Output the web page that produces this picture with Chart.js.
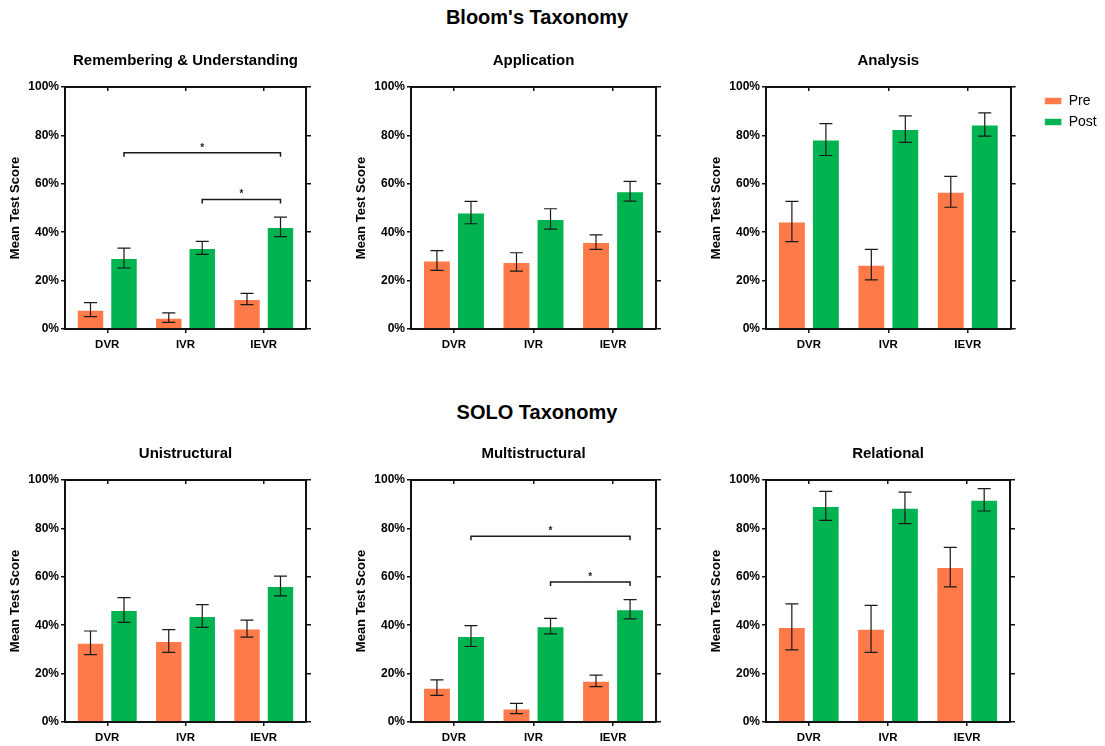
<!DOCTYPE html>
<html>
<head>
<meta charset="utf-8">
<script src="https://cdn.jsdelivr.net/npm/chart.js@4.4.1/dist/chart.umd.min.js"></script>
<style>
  body { margin: 0; background: #fff; width: 1105px; height: 746px; position: relative; overflow: hidden;
         font-family: "Liberation Sans", Arial, sans-serif; }
  .section { position: absolute; left: 0; width: 1074px; text-align: center; font-weight: bold;
             font-size: 20px; line-height: 23px; color: #000; }
  canvas { position: absolute; }
</style>
</head>
<body>
<div class="section" style="top:6px">Bloom's Taxonomy</div>
<div class="section" style="top:401px">SOLO Taxonomy</div>
<script>
// ---- data (percent) ----
const categories = ['DVR', 'IVR', 'IEVR'];
const yTicks = [0, 20, 40, 60, 80, 100];

const remPre = [8.0, 4.7, 12.4];
const remPreErr = [2.9, 2.0, 2.3];
const remPost = [29.3, 33.5, 42.2];
const remPostErr = [4.1, 2.7, 4.0];
const remBrackets = [{ from: 0, to: 2, y: 72.8 }, { from: 1, to: 2, y: 53.5 }];

const appPre = [28.3, 27.7, 35.9];
const appPreErr = [4.1, 3.8, 3.0];
const appPost = [48.1, 45.5, 56.9];
const appPostErr = [4.6, 4.2, 4.1];

const anaPre = [44.4, 26.6, 56.7];
const anaPreErr = [8.3, 6.3, 6.4];
const anaPost = [78.3, 82.6, 84.5];
const anaPostErr = [6.6, 5.5, 4.8];

const uniPre = [32.7, 33.5, 38.6];
const uniPreErr = [4.9, 4.7, 3.5];
const uniPost = [46.3, 43.8, 56.2];
const uniPostErr = [5.1, 4.7, 4.1];

const mulPre = [14.2, 5.6, 17.0];
const mulPreErr = [3.2, 2.1, 2.4];
const mulPost = [35.5, 39.6, 46.6];
const mulPostErr = [4.3, 3.2, 4.0];
const mulBrackets = [{ from: 0, to: 2, y: 76.8 }, { from: 1, to: 2, y: 57.8 }];

const relPre = [39.3, 38.5, 64.0];
const relPreErr = [9.5, 9.7, 8.2];
const relPost = [89.3, 88.5, 91.8];
const relPostErr = [6.0, 6.5, 4.6];

const PRE_COLOR = '#FF7A48';
const POST_COLOR = '#00B351';
const FONT = '"Liberation Sans", Arial, sans-serif';
Chart.defaults.font.family = FONT;

// panel layout: plot-area left/top and width
const panels = [
  { title: 'Remembering & Understanding', pre: remPre, preErr: remPreErr, post: remPost, postErr: remPostErr, brackets: remBrackets, left: 65, top: 87, w: 241 },
  { title: 'Application', pre: appPre, preErr: appPreErr, post: appPost, postErr: appPostErr, brackets: [], left: 411, top: 87, w: 245 },
  { title: 'Analysis', pre: anaPre, preErr: anaPreErr, post: anaPost, postErr: anaPostErr, brackets: [], left: 766, top: 87, w: 244, legend: true },
  { title: 'Unistructural', pre: uniPre, preErr: uniPreErr, post: uniPost, postErr: uniPostErr, brackets: [], left: 65, top: 480, w: 241 },
  { title: 'Multistructural', pre: mulPre, preErr: mulPreErr, post: mulPost, postErr: mulPostErr, brackets: mulBrackets, left: 411, top: 480, w: 245 },
  { title: 'Relational', pre: relPre, preErr: relPreErr, post: relPost, postErr: relPostErr, brackets: [], left: 766, top: 480, w: 244 }
];
const PLOT_H = 242;
const TOP_SPACE = 45;
const BOTTOM_SPACE = 30;
const LEFT_SPACE = 65;
const EDGE = 0.04; // extra category room at both ends of the x axis

// error bars drawn over the bars
const errorBars = {
  id: 'errorBars',
  afterDatasetsDraw(chart) {
    const { ctx } = chart;
    const y = chart.scales.y;
    ctx.save();
    ctx.strokeStyle = '#1a1a1a';
    ctx.lineWidth = 1.2;
    chart.data.datasets.forEach((ds, di) => {
      chart.getDatasetMeta(di).data.forEach((bar, i) => {
        const yt = y.getPixelForValue(ds.data[i] + ds.err[i]);
        const yb = y.getPixelForValue(ds.data[i] - ds.err[i]);
        ctx.beginPath();
        ctx.moveTo(bar.x, yt); ctx.lineTo(bar.x, yb);
        ctx.moveTo(bar.x - 6.5, yt); ctx.lineTo(bar.x + 6.5, yt);
        ctx.moveTo(bar.x - 6.5, yb); ctx.lineTo(bar.x + 6.5, yb);
        ctx.stroke();
      });
    });
    ctx.restore();
  }
};

// significance brackets between Post bars
function bracketPlugin(list) {
  return {
    id: 'brackets',
    afterDatasetsDraw(chart) {
      const { ctx } = chart;
      const y = chart.scales.y;
      const bars = chart.getDatasetMeta(1).data;
      ctx.save();
      ctx.strokeStyle = '#1a1a1a';
      ctx.fillStyle = '#1a1a1a';
      ctx.lineWidth = 1.5;
      list.forEach(b => {
        const x1 = bars[b.from].x, x2 = bars[b.to].x;
        const yy = y.getPixelForValue(b.y);
        ctx.beginPath();
        ctx.moveTo(x1, yy + 4); ctx.lineTo(x1, yy); ctx.lineTo(x2, yy); ctx.lineTo(x2, yy + 4);
        ctx.stroke();
        ctx.font = 'bold 10px ' + FONT;
        ctx.textAlign = 'center';
        ctx.textBaseline = 'middle';
        ctx.fillText('*', (x1 + x2) / 2, yy - 5);
      });
      ctx.restore();
    }
  };
}

const frame = { display: true, color: '#111', width: 2 };
const widenX = s => { s.min = -EDGE; s.max = categories.length - 1 + EDGE; };
const categoryTicks = s => {
  s.ticks = categories.map((c, i) => ({ value: i }));
  s._startValue = -0.5 - EDGE;
  s._valueRange = categories.length + 2 * EDGE;
};

panels.forEach(p => {
  const cv = document.createElement('canvas');
  const x0 = p.left - LEFT_SPACE;
  const W = p.legend ? 1105 - x0 : LEFT_SPACE + p.w + 10;
  const H = TOP_SPACE + PLOT_H + BOTTOM_SPACE;
  cv.width = W; cv.height = H;
  cv.style.left = x0 + 'px';
  cv.style.top = (p.top - TOP_SPACE) + 'px';
  document.body.appendChild(cv);

  new Chart(cv, {
    type: 'bar',
    data: {
      labels: categories,
      datasets: [
        { label: 'Pre', data: p.pre, err: p.preErr, backgroundColor: PRE_COLOR, borderColor: 'rgba(255,255,255,0.55)', borderWidth: 1 },
        { label: 'Post', data: p.post, err: p.postErr, backgroundColor: POST_COLOR, borderColor: 'rgba(255,255,255,0.55)', borderWidth: 1 }
      ]
    },
    options: {
      responsive: false,
      animation: false,
      layout: { padding: 0 },
      datasets: { bar: { categoryPercentage: 0.856, barPercentage: 0.82 } },
      plugins: {
        title: { display: true, text: p.title, fullSize: false, color: '#000',
                 font: { size: 15, weight: 'bold' }, padding: { top: 10, bottom: 17 } },
        legend: p.legend ? {
          display: true, position: 'right', align: 'start', fullSize: false,
          labels: { boxWidth: 17, boxHeight: 7, padding: 7, color: '#000', font: { size: 14 } }
        } : { display: false },
        tooltip: { enabled: false }
      },
      scales: {
        x: {
          position: 'bottom',
          afterDataLimits: widenX,
          afterBuildTicks: categoryTicks,
          grid: { drawOnChartArea: false, offset: false, tickLength: 4, color: '#111', lineWidth: 1.5 },
          border: frame,
          ticks: { font: { size: 11.5, weight: 'bold' }, color: '#000', padding: 5 },
          afterFit: s => { s.height = BOTTOM_SPACE; }
        },
        xTop: {
          type: 'category', position: 'top', offset: true,
          afterDataLimits: widenX,
          afterBuildTicks: categoryTicks,
          grid: { drawOnChartArea: false, offset: false, tickLength: -4, color: '#111', lineWidth: 1.5 },
          border: frame,
          ticks: { display: false },
          afterFit: s => { s.height = 0; }
        },
        y: {
          min: 0, max: 100,
          afterBuildTicks: s => { s.ticks = yTicks.map(v => ({ value: v })); },
          ticks: { callback: v => v + '%', font: { size: 12, weight: 'bold' }, color: '#000', padding: 2 },
          grid: { drawOnChartArea: false, tickLength: 4, color: '#111', lineWidth: 1.5 },
          border: frame,
          title: { display: true, text: 'Mean Test Score', color: '#000',
                   font: { size: 13, weight: 'bold' }, padding: { top: 8, bottom: 0 } },
          afterFit: s => { s.width = LEFT_SPACE; }
        },
        yRight: {
          position: 'right', min: 0, max: 100,
          afterBuildTicks: s => { s.ticks = yTicks.map(v => ({ value: v })); },
          ticks: { display: false },
          grid: { drawOnChartArea: false, tickLength: 5, color: '#111', lineWidth: 1.5 },
          border: frame,
          afterFit: s => { s.width = p.legend ? 27 : 10; }
        }
      }
    },
    plugins: [errorBars, bracketPlugin(p.brackets)]
  });
});
</script>
</body>
</html>
